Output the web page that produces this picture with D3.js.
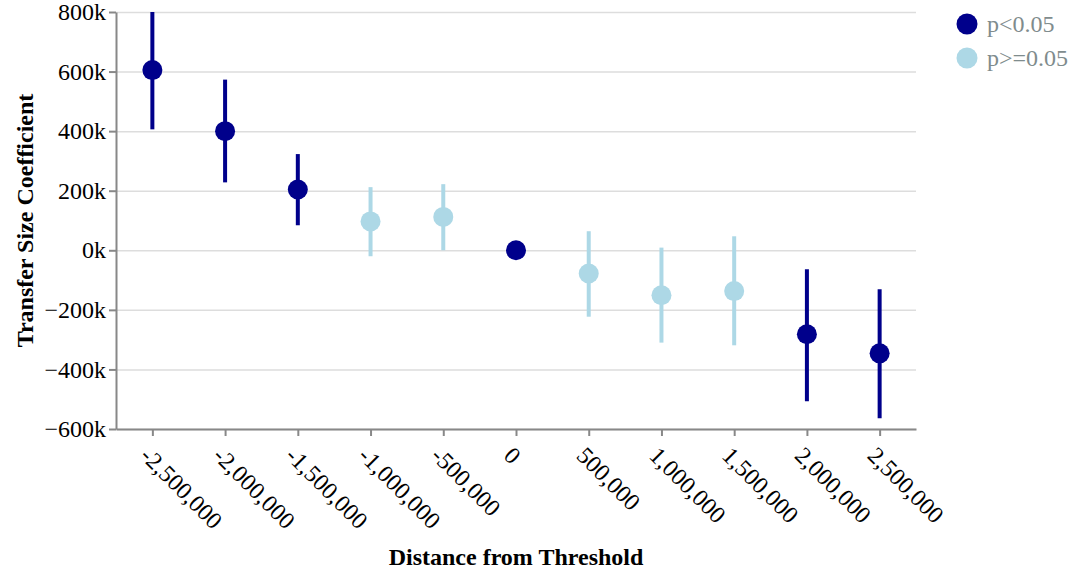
<!DOCTYPE html>
<html lang="en">
<head>
    <meta charset="UTF-8">
    <title>Transfer Size Coefficient</title>
    <script src="https://d3js.org/d3.v7.min.js"></script>
    <style>
        body { margin: 0; background: #fff; }
        .axis path, .axis line { stroke: #888; }
        .grid line { stroke: #ddd; stroke-width: 1.5; }
        .grid path { display: none; }
    </style>
</head>
<body>
<svg width="1076" height="573"></svg>

<script>

    // distance from threshold
    var distances = [-2500000, -2000000, -1500000, -1000000, -500000, 0,
                     500000, 1000000, 1500000, 2000000, 2500000];
    var coefs = [605000, 400000, 204000, 97000, 112000, 0,
                 -78000, -151000, -137000, -282000, -346000];
    var lower = [406000, 228000, 84000, -20000, 0, 0,
                 -223000, -310000, -319000, -507000, -564000];
    var upper = [800000, 573000, 323000, 212000, 222000, 0,
                 64000, 9000, 47000, -64000, -131000];
    var significant = [true, true, true, false, false, true,
                       false, false, false, true, true];
    var legendLabels = ['p<0.05', 'p>=0.05'];
    var yTicks = [-600000, -400000, -200000, 0, 200000, 400000, 600000, 800000];

    var serif = '"Liberation Serif", "Times New Roman", serif';

    var svg = d3.select('svg')
            .attr('font-family', serif);
    var margin = {top: 12, right: 160, bottom: 144, left: 116};
    var width = 1076 - margin.left - margin.right;
    var height = 573 - margin.top - margin.bottom;

    var color = d3.scaleOrdinal()
            .domain(legendLabels)
            .range(['#00008b', '#add8e6']);

    var x = d3.scaleLinear()
            .domain([-2750000, 2750000])
            .range([0, width]);

    var y = d3.scaleLinear()
            .domain([-600000, 800000])
            .range([height, 0]);

    var g = svg.append('g')
            .attr('transform', 'translate(' + margin.left + ',' + margin.top + ')');

    g.append('g')
            .attr('class', 'grid')
            .call(d3.axisLeft(y).tickValues(yTicks).tickSize(-width).tickFormat(''));

    var xAxis = g.append('g')
            .attr('class', 'axis')
            .attr('transform', 'translate(0,' + height + ')')
            .call(d3.axisBottom(x).tickValues(distances).tickSize(7).tickSizeOuter(0)
                    .tickFormat(function (d) { return d3.format(',')(d).replace('\u2212', '-'); }));
    xAxis.selectAll('text')
            .attr('text-anchor', 'start')
            .attr('transform', 'translate(-8,22) rotate(45)')
            .attr('dy', '0.35em')
            .attr('y', 0)
            .attr('x', 0);

    var yAxis = g.append('g')
            .attr('class', 'axis')
            .call(d3.axisLeft(y).tickValues(yTicks).tickSize(7).tickSizeOuter(0)
                    .tickFormat(function (d) { return d3.format(',')(d / 1000) + 'k'; }));

    [xAxis, yAxis].forEach(function (ax) {
        ax.attr('font-family', serif).attr('font-size', 24);
        ax.selectAll('path, line').attr('stroke-width', 2);
        ax.selectAll('text').attr('fill', '#000');
    });

    var data = distances.map(function (d, i) {
        return {x: d, y: coefs[i], lo: lower[i], hi: upper[i],
                group: significant[i] ? legendLabels[0] : legendLabels[1]};
    });

    var pts = g.append('g').selectAll('g')
            .data(data)
            .enter().append('g');

    pts.append('line')
            .attr('x1', function (d) { return x(d.x); })
            .attr('x2', function (d) { return x(d.x); })
            .attr('y1', function (d) { return y(d.lo); })
            .attr('y2', function (d) { return y(d.hi); })
            .attr('stroke', function (d) { return color(d.group); })
            .attr('stroke-width', 4);

    pts.append('circle')
            .attr('cx', function (d) { return x(d.x); })
            .attr('cy', function (d) { return y(d.y); })
            .attr('r', 10)
            .attr('fill', function (d) { return color(d.group); });

    // axis titles
    svg.append('text')
            .attr('transform', 'translate(33,' + (margin.top + height / 2) + ') rotate(-90)')
            .attr('text-anchor', 'middle')
            .attr('font-weight', 'bold')
            .attr('font-size', 24)
            .text('Transfer Size Coefficient');

    svg.append('text')
            .attr('x', margin.left + x(0))
            .attr('y', 565)
            .attr('text-anchor', 'middle')
            .attr('font-weight', 'bold')
            .attr('font-size', 24)
            .text('Distance from Threshold');

    // legend
    var legend = svg.append('g')
            .attr('transform', 'translate(967,24)')
            .selectAll('g')
            .data(legendLabels)
            .enter().append('g')
            .attr('transform', function (d, i) { return 'translate(0,' + i * 34 + ')'; });

    legend.append('circle')
            .attr('r', 10.5)
            .attr('fill', function (d) { return color(d); });

    legend.append('text')
            .attr('x', 20)
            .attr('dy', '0.35em')
            .attr('font-size', 24)
            .attr('fill', '#7f8c8d')
            .text(function (d) { return d; });

</script>
</body>
</html>
